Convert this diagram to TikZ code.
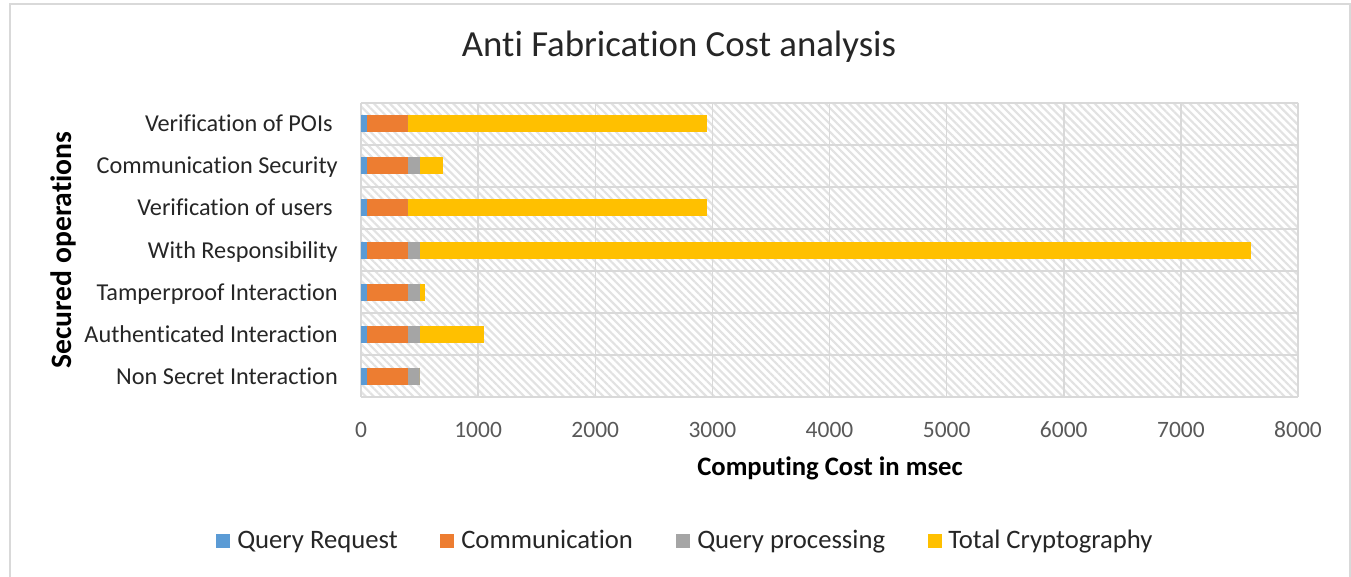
\documentclass[tikz,border=0pt]{standalone}
\usepackage{fontspec}
\setmainfont{Carlito}[Ligatures={NoCommon}]
\usetikzlibrary{patterns.meta}
\definecolor{cblue}{HTML}{5B9BD5}
\definecolor{corange}{HTML}{ED7D31}
\definecolor{cgray}{HTML}{A5A5A5}
\definecolor{cyellow}{HTML}{FFC000}
\definecolor{gridc}{HTML}{D9D9D9}
\definecolor{hatchc}{HTML}{E2E2E2}
\definecolor{tickc}{HTML}{595959}
\definecolor{labc}{HTML}{262626}
\tikzset{
  catlabel/.style={anchor=base east, inner sep=0pt, text=labc, font=\fontsize{18.2pt}{20pt}\selectfont},
  ticklabel/.style={anchor=base, inner sep=0pt, text=tickc, font=\fontsize{17.6pt}{20pt}\selectfont},
  legtext/.style={anchor=base west, inner sep=0pt, text=labc, font=\fontsize{20pt}{22pt}\selectfont},
  legbox/.style={minimum width=14*0.75pt, minimum height=14*0.75pt, inner sep=0pt, draw=none},
  gridline/.style={draw=gridc, line width=1.5*0.75pt},
}
\begin{document}
\begin{tikzpicture}[x=0.75pt, y=-0.75pt]
\useasboundingbox (0,0) rectangle (1351,577);
\begin{scope}
\clip (0,0) rectangle (1351,577);
\draw[gridc, line width=1.5*0.75pt, fill=white] (10,4) rectangle (1350,590);
\end{scope}
% title
\node[text=labc, font=\fontsize{27.6pt}{30pt}\selectfont, inner sep=0pt, anchor=base] (title) at (679,57) {Anti Fabrication Cost analysis};
% plot area background hatch
\path[pattern={Lines[angle=-45, distance=4.2pt, line width=1.6pt]}, pattern color=hatchc] (361,103) rectangle (1298,397);
% gridlines
\foreach \k in {1,...,8} { \draw[gridline] ({361+117.125*\k},103) -- ({361+117.125*\k},397); }
\foreach \r in {0,...,7} { \draw[gridline] (361,{103+42*\r}) -- (1298,{103+42*\r}); }
\draw[gridline] (361,103) -- (361,397);
% bars: values qr, comm, proc, crypt
\foreach \row/\a/\b/\c/\d in {0/50/350/0/2550, 1/50/350/100/200, 2/50/350/0/2550, 3/50/350/100/7100, 4/50/350/100/50, 5/50/350/100/550, 6/50/350/100/0} {
  \pgfmathsetmacro{\yc}{124+42*\row}
  \pgfmathsetmacro{\xa}{361+0.117125*\a}
  \pgfmathsetmacro{\xb}{\xa+0.117125*\b}
  \pgfmathsetmacro{\xc}{\xb+0.117125*\c}
  \pgfmathsetmacro{\xd}{\xc+0.117125*\d}
  \fill[cblue] (361,\yc-8.5) rectangle (\xa,\yc+8.5);
  \fill[corange] (\xa,\yc-8.5) rectangle (\xb,\yc+8.5);
  \fill[cgray] (\xb,\yc-8.5) rectangle (\xc,\yc+8.5);
  \fill[cyellow] (\xc,\yc-8.5) rectangle (\xd,\yc+8.5);
}
% category labels
\node[catlabel] (c0) at (333,132) {Verification of POIs};
\node[catlabel] (c1) at (338,174) {Communication Security};
\node[catlabel] (c2) at (333,216) {Verification of users};
\node[catlabel] (c3) at (338,258) {With Responsibility};
\node[catlabel] (c4) at (338,300) {Tamperproof Interaction};
\node[catlabel] (c5) at (338,342) {Authenticated Interaction};
\node[catlabel] (c6) at (338,384) {Non Secret Interaction};
% tick labels
\foreach \k in {0,...,8} {
  \pgfmathtruncatemacro{\v}{1000*\k}
  \node[ticklabel] (t\k) at ({361+117.125*\k},437) {\v};
}
% axis titles
\node[text=black, font=\bfseries\fontsize{20pt}{22pt}\selectfont, inner sep=0pt] (xt) at (830,468) {Computing Cost in msec};
\node[text=black, font=\bfseries\fontsize{22.2pt}{24pt}\selectfont, inner sep=0pt, rotate=90] (yt) at (63,250) {Secured operations};
% legend
\node[legbox, fill=cblue] (l1) at (223,541) {};
\node[legtext] (lt1) at (237,548) {Query Request};
\node[legbox, fill=corange] (l2) at (447,541) {};
\node[legtext] (lt2) at (461,548) {Communication};
\node[legbox, fill=cgray] (l3) at (683,541) {};
\node[legtext] (lt3) at (697,548) {Query processing};
\node[legbox, fill=cyellow] (l4) at (935,541) {};
\node[legtext] (lt4) at (948,548) {Total Cryptography};
\end{tikzpicture}
\end{document}
